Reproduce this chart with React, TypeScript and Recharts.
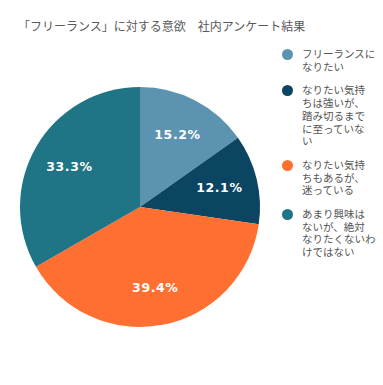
import { Cell, Legend, Pie, PieChart } from "recharts";

const categories = [
  "フリーランスに\nなりたい",
  "なりたい気持\nちは強いが、\n踏み切るまで\nに至っていな\nい",
  "なりたい気持\nちもあるが、\n迷っている",
  "あまり興味は\nないが、絶対\nなりたくないわ\nけではない",
];
const shares = [15.2, 12.1, 39.4, 33.3];
const colors = ["#5b93b1", "#0b4562", "#ff6f31", "#1f7585"];

const data = categories.map((name, i) => ({ name, value: shares[i] }));

const RADIAN = Math.PI / 180;

interface LabelProps {
  cx: number;
  cy: number;
  midAngle: number;
  outerRadius: number;
  value: number;
}

const renderLabel = ({ cx, cy, midAngle, outerRadius, value }: LabelProps) => {
  const r = outerRadius * 0.68;
  const x = cx + r * Math.cos(-midAngle * RADIAN);
  const y = cy + r * Math.sin(-midAngle * RADIAN);
  return (
    <text
      x={x}
      y={y}
      fill="#ffffff"
      textAnchor="middle"
      dominantBaseline="central"
      fontFamily="DejaVu Sans"
      fontWeight="bold"
      fontSize={12.5}
      letterSpacing={0.6}
    >
      {value.toFixed(1)}%
    </text>
  );
};

const renderLegend = () => (
  <div style={{ fontFamily: "'Noto Sans CJK JP'", fontSize: 10.5, color: "#555555" }}>
    {data.map((d, i) => (
      <div key={i} style={{ display: "flex", alignItems: "flex-start", marginBottom: 11 }}>
        <div
          style={{
            width: 11,
            height: 11,
            borderRadius: "50%",
            background: colors[i],
            marginTop: 1,
            marginRight: 9,
            flexShrink: 0,
          }}
        />
        <div style={{ whiteSpace: "pre-line", lineHeight: "12.7px" }}>{d.name}</div>
      </div>
    ))}
  </div>
);

export default function App() {
  return (
    <div style={{ position: "absolute", left: 0, top: 0, width: 383, height: 385, background: "#ffffff" }}>
      <div
        style={{
          position: "absolute",
          left: 18,
          top: 17,
          fontFamily: "'Noto Sans CJK JP'",
          fontSize: 12,
          color: "#595959",
          whiteSpace: "nowrap",
        }}
      >
        「フリーランス」に対する意欲　社内アンケート結果
      </div>
      <PieChart width={383} height={385} margin={{ top: 0, right: 0, bottom: 0, left: 0 }}>
        <Pie
          data={data}
          dataKey="value"
          nameKey="name"
          cx={140}
          cy={207}
          outerRadius={120}
          startAngle={90}
          endAngle={-270}
          stroke="none"
          label={renderLabel}
          labelLine={false}
          isAnimationActive={false}
        >
          {data.map((_, i) => (
            <Cell key={i} fill={colors[i]} />
          ))}
        </Pie>
        <Legend
          layout="vertical"
          align="right"
          verticalAlign="top"
          content={renderLegend}
          wrapperStyle={{ left: 282, top: 48, width: 100 }}
        />
      </PieChart>
    </div>
  );
}
